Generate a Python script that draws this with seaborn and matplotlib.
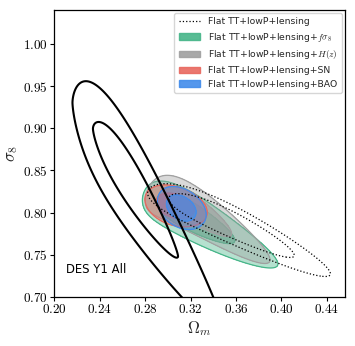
import numpy as np
import matplotlib
matplotlib.use("Agg")
import matplotlib.pyplot as plt
from matplotlib.lines import Line2D
from matplotlib.patches import Patch
from matplotlib.ticker import FuncFormatter
import seaborn as sns

sns.set_theme(style="ticks")
plt.rcParams["font.family"] = ["DejaVu Sans"]
plt.rcParams["mathtext.fontset"] = "cm"

# Posterior summaries, one entry per constraint
labels = ["DES Y1 All",
          "Flat TT+lowP+lensing",
          r"Flat TT+lowP+lensing+$f\sigma_8$",
          r"Flat TT+lowP+lensing+$H(z)$",
          "Flat TT+lowP+lensing+SN",
          "Flat TT+lowP+lensing+BAO"]
om_skew = [0.143, 0.10, 0.239, 0.239, 0.0, 0.0]        # log(Om - skew) is gaussian
om_peak = [0.2659, 0.35, 0.317, 0.3177, 0.306, 0.3115]
om_width = [0.1981, 0.1445, 0.2836, 0.262, 0.036, 0.0277]
s8_slope = [0.77, 0.274, 0.272, 0.272, 0.0, 0.0]        # S = sigma8 (Om/0.3)^slope
s8_center = [0.7645, 0.824, 0.810, 0.820, 0.808, 0.8055]
s8_tilt = [0.009, 0.0, 0.0, 0.0, -0.0031, -0.0033]
s8_bend = [-0.0045, -0.003, -0.002, -0.0034, 0.0, 0.0]
s8_twist = [-0.0007, 0.0, 0.0, 0.0, 0.0, 0.0]
s8_width = [0.017, 0.0112, 0.012, 0.012, 0.0095, 0.0097]
s8_power = [1.59, 2, 2, 2, 2, 2]
chi2_68 = [2.30, 2.30, 2.30, 2.30, 2.30, 2.30]
chi2_95 = [6.92, 4.8, 6.18, 6.18, 6.18, 6.18]

colors = ["black", "black", "#46b589", "#a0a0a0", "#e8685f", "#428cea"]

x_ticks = [0.20, 0.24, 0.28, 0.32, 0.36, 0.40, 0.44]
y_ticks = [0.70, 0.75, 0.80, 0.85, 0.90, 0.95, 1.00]

om = np.linspace(0.18, 0.48, 800)
s8 = np.linspace(0.62, 1.08, 800)
OM, S8 = np.meshgrid(om, s8)


def chi2(i):
    g = np.log(np.clip(OM - om_skew[i], 1e-9, None))
    z = (g - np.log(om_peak[i] - om_skew[i])) / om_width[i]
    S = S8 * (OM / 0.3) ** s8_slope[i]
    mid = s8_center[i] + s8_tilt[i] * z + s8_bend[i] * z ** 2 + s8_twist[i] * z ** 3
    t = np.abs(S - mid) / s8_width[i]
    return np.where(OM > om_skew[i], z ** 2 + t ** s8_power[i], 1e6)


fig = plt.figure(figsize=(3.55, 3.46), dpi=100)
ax = fig.add_axes([0.153, 0.1416, 0.819, 0.829])

# filled constraints: fsigma8, H(z), SN, BAO
for k, i in enumerate([2, 3, 4, 5]):
    c = chi2(i)
    z0 = 2 + k
    ax.contourf(OM, S8, c, levels=[0, chi2_95[i]], colors=[colors[i]], alpha=0.4, zorder=z0)
    ax.contourf(OM, S8, c, levels=[0, chi2_68[i]], colors=[colors[i]], alpha=0.65, zorder=z0)
    ax.contour(OM, S8, c, levels=[chi2_68[i], chi2_95[i]], colors=[colors[i]],
               linewidths=0.9, zorder=z0)

# Planck alone, dotted
ax.contour(OM, S8, chi2(1), levels=[chi2_68[1], chi2_95[1]], colors="black",
           linewidths=0.9, linestyles=":", zorder=8)
# DES Y1
ax.contour(OM, S8, chi2(0), levels=[chi2_68[0], chi2_95[0]], colors="black",
           linewidths=1.5, zorder=9)

ax.set_xlim(0.20, 0.456)
ax.set_ylim(0.70, 1.04)
ax.set_xticks(x_ticks)
ax.set_yticks(y_ticks)
fmt = FuncFormatter(lambda v, _: f"${v:.2f}$")
ax.xaxis.set_major_formatter(fmt)
ax.yaxis.set_major_formatter(fmt)
ax.tick_params(direction="out", length=3, width=0.8, labelsize=9.5, pad=1.5, colors="black")
for sp in ax.spines.values():
    sp.set_color("black")
    sp.set_linewidth(0.9)
ax.set_xlabel(r"$\Omega_m$", fontsize=12, labelpad=2)
ax.set_ylabel(r"$\sigma_8$", fontsize=12, labelpad=2)

ax.text(0.21, 0.728, labels[0], fontsize=8.4, color="black", zorder=10)

handles = [Line2D([], [], color="black", lw=0.9, ls=":")]
handles += [Patch(facecolor=colors[i], edgecolor=colors[i], alpha=0.9) for i in [2, 3, 4, 5]]
leg = ax.legend(handles, labels[1:], loc="upper right", fontsize=6.7, frameon=True,
                handlelength=2.3, handletextpad=0.9, labelspacing=0.5,
                borderpad=0.45, borderaxespad=0.3, fancybox=True)
leg.get_frame().set_edgecolor("#cccccc")
leg.set_zorder(11)

fig.savefig("out.png", dpi=100)
